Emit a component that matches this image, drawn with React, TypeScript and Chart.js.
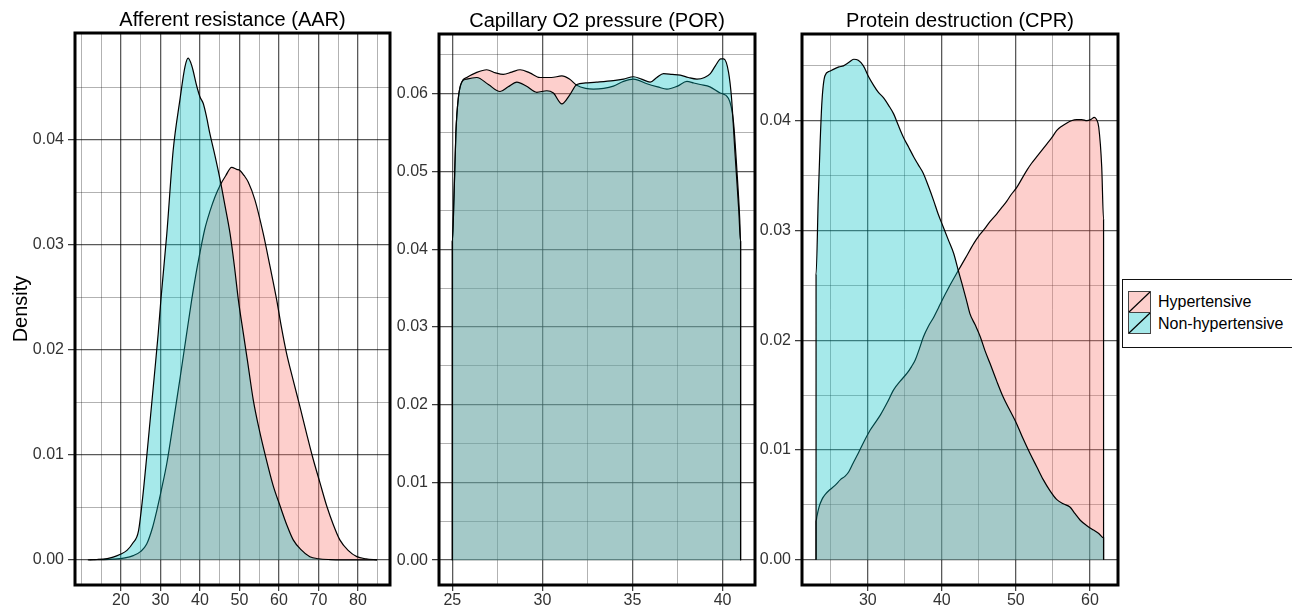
import React, { useEffect, useRef } from 'react';
import { Chart, registerables } from 'chart.js';

Chart.register(...registerables);

// ---------------- data ----------------
const seriesNames = ['Hypertensive', 'Non-hypertensive'];
const panelTitles = ['Afferent resistance (AAR)', 'Capillary O2 pressure (POR)', 'Protein destruction (CPR)'];
const yAxisTitle = 'Density';

// Panel 1: AAR
const aarHyperX = [12, 15, 18, 21, 23.1, 25, 26.5, 28, 29, 30.3, 31.6, 33.2, 34.9, 36.4, 37.9, 39, 40, 41.2, 42.5, 43.8, 45.1, 46.5, 48.0, 49.3, 50.1, 51.2, 52.2, 53.9, 56.0, 57.7, 59.4, 60.6, 61.9, 63.6, 65.3, 67, 68.5, 70.4, 72.1, 73.8, 75.4, 77.5, 79.7, 82, 84.8];
const aarHyperY = [0, 0.00002, 0.00006, 0.00018, 0.0004, 0.0008, 0.0015, 0.0031, 0.0046, 0.0068, 0.0092, 0.013, 0.0172, 0.021, 0.0248, 0.0273, 0.0293, 0.0315, 0.0332, 0.0346, 0.0357, 0.0366, 0.0374, 0.0372, 0.0371, 0.0366, 0.036, 0.0343, 0.0311, 0.028, 0.0248, 0.0222, 0.0197, 0.0171, 0.0146, 0.012, 0.0098, 0.0073, 0.0051, 0.0033, 0.0019, 0.0009, 0.0003, 0.0001, 0];
const aarNonX = [11.6, 14, 16.5, 18, 19.7, 21.5, 23, 24.4, 25.5, 26.5, 27.5, 28.5, 29.4, 30.1, 31.6, 33.2, 34.9, 36.2, 37.0, 37.9, 39.2, 40.0, 40.8, 41.6, 42.5, 43.8, 45.1, 46.3, 47.6, 48.7, 49.7, 51.0, 52.0, 53.5, 55.0, 56.5, 58.5, 60.3, 62.0, 63.6, 65.5, 67.8, 70, 73, 76, 80, 84.8];
const aarNonY = [0, 0.00003, 0.00012, 0.00025, 0.0005, 0.0009, 0.0016, 0.0027, 0.006, 0.0098, 0.0138, 0.0178, 0.0215, 0.0248, 0.0311, 0.039, 0.0438, 0.047, 0.0478, 0.0471, 0.0451, 0.0441, 0.0435, 0.0423, 0.0406, 0.0385, 0.0362, 0.0338, 0.0311, 0.028, 0.0248, 0.0215, 0.019, 0.0152, 0.0124, 0.01, 0.0071, 0.0051, 0.0033, 0.0019, 0.001, 0.0003, 0.0001, 0.00002, 0, 0, 0];
const aarXMajor = [20, 30, 40, 50, 60, 70, 80];
const aarXMinor = [10, 15, 25, 35, 45, 55, 65, 75, 85];
const aarYMajor = [0, 0.01, 0.02, 0.03, 0.04];
const aarYMinor = [0.005, 0.015, 0.025, 0.035, 0.045];

// Panel 2: POR
const porHyperX = [25, 25, 25.09, 25.2, 25.33, 25.52, 25.8, 26.3, 26.91, 27.4, 27.83, 28.3, 28.76, 29.3, 29.87, 30.5, 31.08, 31.5, 31.91, 32.4, 32.83, 33.4, 33.94, 34.5, 35.06, 35.8, 36.4, 36.91, 37.5, 38.02, 38.4, 38.76, 39.3, 39.87, 40.33, 40.6, 40.8, 40.95, 41, 41];
const porHyperY = [0, 0.041, 0.0465, 0.0551, 0.0594, 0.0615, 0.0621, 0.0627, 0.0631, 0.0627, 0.0625, 0.0628, 0.0631, 0.0627, 0.0621, 0.0621, 0.0623, 0.0619, 0.0611, 0.0607, 0.0606, 0.0607, 0.061, 0.0616, 0.0619, 0.0613, 0.0609, 0.0606, 0.061, 0.0616, 0.0614, 0.0612, 0.0609, 0.0601, 0.0594, 0.0565, 0.05, 0.044, 0.041, 0];
const porNonX = [25, 25, 25.09, 25.2, 25.33, 25.52, 25.8, 26.36, 27.0, 27.65, 28.1, 28.58, 29.1, 29.69, 30.24, 30.61, 31.08, 31.5, 31.91, 32.4, 33.0, 33.94, 34.5, 35.06, 35.5, 35.98, 36.35, 36.72, 37.2, 37.65, 38.1, 38.58, 39.0, 39.32, 39.6, 39.9, 40.06, 40.33, 40.5, 40.7, 40.9, 41, 41];
const porNonY = [0, 0.041, 0.0465, 0.0551, 0.0594, 0.0615, 0.0619, 0.0621, 0.0612, 0.0603, 0.0609, 0.0615, 0.061, 0.0602, 0.0604, 0.0601, 0.0587, 0.0598, 0.0612, 0.0614, 0.0615, 0.0617, 0.0619, 0.0622, 0.0619, 0.0615, 0.0621, 0.0626, 0.0625, 0.0624, 0.0621, 0.0619, 0.0621, 0.0626, 0.0636, 0.0645, 0.0645, 0.0628, 0.0594, 0.052, 0.045, 0.041, 0];
const porXMajor = [25, 30, 35, 40];
const porXMinor = [27.5, 32.5, 37.5];
const porYMajor = [0, 0.01, 0.02, 0.03, 0.04, 0.05, 0.06];
const porYMinor = [0.005, 0.015, 0.025, 0.035, 0.045, 0.055, 0.065];

// Panel 3: CPR
const cprHyperX = [23, 23, 23.1, 23.4, 23.8, 24.3, 24.9, 25.6, 26.3, 26.9, 27.4, 28, 28.7, 29.5, 30.3, 31, 31.7, 32.6, 33.5, 34.4, 35.3, 35.9, 36.4, 37, 37.5, 38.2, 38.9, 39.5, 40, 41, 42, 43.2, 44.3, 45, 45.6, 46.5, 47.4, 48.1, 48.8, 49.4, 50.1, 50.8, 51.5, 52.1, 52.8, 53.5, 54.2, 54.9, 55.5, 56.2, 56.9, 57.5, 58.2, 58.9, 59.6, 60.1, 60.6, 60.9, 61.2, 61.6, 61.85, 61.85];
const cprHyperY = [0, 0.0035, 0.0039, 0.0048, 0.0055, 0.006, 0.0064, 0.0068, 0.0073, 0.0076, 0.008, 0.0088, 0.0097, 0.0108, 0.0118, 0.0125, 0.0132, 0.0143, 0.0155, 0.0163, 0.017, 0.0176, 0.0182, 0.0193, 0.0203, 0.0213, 0.0221, 0.0229, 0.0236, 0.0249, 0.0261, 0.0275, 0.0288, 0.0295, 0.03, 0.0308, 0.0315, 0.0321, 0.0327, 0.0333, 0.0339, 0.0347, 0.0355, 0.0361, 0.0367, 0.0373, 0.0379, 0.0385, 0.0391, 0.0395, 0.0398, 0.04, 0.0401, 0.0401, 0.04, 0.0401, 0.0403, 0.0401, 0.0394, 0.0358, 0.031, 0];
const cprNonX = [23, 23, 23.3, 23.55, 23.8, 24.2, 24.8, 25.4, 26.1, 26.7, 27.4, 28.1, 28.7, 29.4, 30.1, 30.8, 31.4, 32.1, 32.8, 33.5, 34.1, 34.8, 35.5, 36.2, 36.8, 37.5, 38.2, 38.9, 39.5, 40.2, 40.9, 41.6, 42.2, 42.7, 43.3, 43.8, 44.5, 45.2, 45.8, 46.5, 47.4, 48.3, 49.2, 50.1, 51, 51.9, 52.8, 53.7, 54.6, 55.5, 56.4, 57.3, 58, 58.7, 59.6, 60.5, 61.2, 61.85, 61.85];
const cprNonY = [0, 0.026, 0.033, 0.038, 0.0418, 0.0441, 0.0445, 0.0447, 0.0449, 0.045, 0.0453, 0.0456, 0.0455, 0.045, 0.044, 0.0432, 0.0426, 0.0421, 0.0414, 0.0406, 0.0396, 0.0385, 0.0376, 0.0367, 0.036, 0.0352, 0.034, 0.0327, 0.0315, 0.0303, 0.0291, 0.0279, 0.0264, 0.0252, 0.0237, 0.0224, 0.0214, 0.0203, 0.0191, 0.0179, 0.0163, 0.0148, 0.0136, 0.0124, 0.011, 0.0097, 0.0085, 0.0073, 0.0063, 0.0055, 0.0051, 0.0048, 0.0042, 0.0036, 0.0031, 0.0027, 0.0024, 0.002, 0];
const cprXMajor = [30, 40, 50, 60];
const cprXMinor = [25, 35, 45, 55];
const cprYMajor = [0, 0.01, 0.02, 0.03, 0.04];
const cprYMinor = [0.005, 0.015, 0.025, 0.035, 0.045];

// ---------------- styles ----------------
const FONT = '"Liberation Sans", Arial, Helvetica, sans-serif';
const PINK_FILL = 'rgba(248,118,109,0.35)';
const CYAN_FILL = 'rgba(0,191,196,0.35)';
const MAJOR_GRID = 'rgba(0,0,0,0.65)';
const MINOR_GRID = 'rgba(0,0,0,0.3)';
const TICK_COLOR = '#333333';
const TICK_TEXT = '#333333';

const isIn = (arr: number[], v: number) => arr.some((m) => Math.abs(m - v) < 1e-9);
const zip = (xs: number[], ys: number[]) => xs.map((x, i) => ({ x, y: ys[i] }));

const framePlugin = {
  id: 'panelFrame',
  afterDraw(chart: any) {
    const { ctx, chartArea: a } = chart;
    ctx.save();
    ctx.strokeStyle = '#000';
    ctx.lineWidth = 3;
    ctx.strokeRect(a.left, a.top, a.right - a.left, a.bottom - a.top);
    ctx.restore();
  },
};

interface PanelCfg {
  canvasLeft: number;
  canvasWidth: number;
  yAxisWidth: number;
  padRight: number;
  titleTop: number;
  title: string;
  showYTitle: boolean;
  xMin: number; xMax: number; yMin: number; yMax: number;
  xMajor: number[]; xMinor: number[]; yMajor: number[]; yMinor: number[];
  hypX: number[]; hypY: number[]; nonX: number[]; nonY: number[];
  xFmt: (v: number) => string;
}

const panels: PanelCfg[] = [
  {
    canvasLeft: 0, canvasWidth: 395, yAxisWidth: 75, padRight: 5, titleTop: 8,
    title: panelTitles[0], showYTitle: true,
    xMin: 8.35, xMax: 88.1, yMin: -0.0024, yMax: 0.0502,
    xMajor: aarXMajor, xMinor: aarXMinor, yMajor: aarYMajor, yMinor: aarYMinor,
    hypX: aarHyperX, hypY: aarHyperY, nonX: aarNonX, nonY: aarNonY,
    xFmt: (v) => String(v),
  },
  {
    canvasLeft: 395, canvasWidth: 365, yAxisWidth: 44, padRight: 5, titleTop: 9,
    title: panelTitles[1], showYTitle: false,
    xMin: 24.26, xMax: 41.8, yMin: -0.0032, yMax: 0.0677,
    xMajor: porXMajor, xMinor: porXMinor, yMajor: porYMajor, yMinor: porYMinor,
    hypX: porHyperX, hypY: porHyperY, nonX: porNonX, nonY: porNonY,
    xFmt: (v) => String(v),
  },
  {
    canvasLeft: 757, canvasWidth: 363, yAxisWidth: 45, padRight: 2, titleTop: 9,
    title: panelTitles[2], showYTitle: false,
    xMin: 21.1, xMax: 63.8, yMin: -0.0023, yMax: 0.0479,
    xMajor: cprXMajor, xMinor: cprXMinor, yMajor: cprYMajor, yMinor: cprYMinor,
    hypX: cprHyperX, hypY: cprHyperY, nonX: cprNonX, nonY: cprNonY,
    xFmt: (v) => String(v),
  },
];

function buildConfig(p: PanelCfg): any {
  const xTicks = [...p.xMajor, ...p.xMinor].sort((a, b) => a - b);
  const yTicks = [...p.yMajor, ...p.yMinor].sort((a, b) => a - b);
  const lineDs = {
    borderColor: '#000',
    borderWidth: 1.2,
    fill: 'origin',
    pointRadius: 0,
    cubicInterpolationMode: 'monotone',
  };
  return {
    type: 'line',
    data: {
      datasets: [
        { ...lineDs, label: seriesNames[1], data: zip(p.nonX, p.nonY), backgroundColor: CYAN_FILL, order: 0 },
        { ...lineDs, label: seriesNames[0], data: zip(p.hypX, p.hypY), backgroundColor: PINK_FILL, order: 1 },
      ],
    },
    options: {
      responsive: false,
      animation: false,
      events: [],
      layout: { padding: { left: 0, right: p.padRight, top: 0, bottom: 0 } },
      plugins: {
        legend: { display: false },
        tooltip: { enabled: false },
        title: {
          display: true,
          text: p.title,
          fullSize: false,
          color: '#000',
          font: { family: FONT, size: 20, weight: 'normal', lineHeight: 1.2 },
          padding: { top: p.titleTop, bottom: 1 },
        },
      },
      scales: {
        x: {
          type: 'linear',
          min: p.xMin,
          max: p.xMax,
          afterBuildTicks: (s: any) => { s.ticks = xTicks.map((v) => ({ value: v })); },
          afterFit: (s: any) => { s.height = 23; },
          ticks: {
            autoSkip: false,
            maxRotation: 0,
            padding: 0,
            color: TICK_TEXT,
            font: { family: FONT, size: 16 },
            callback: (v: number) => (isIn(p.xMajor, v) ? p.xFmt(v) : ''),
          },
          grid: {
            color: (c: any) => (c.tick && isIn(p.xMajor, c.tick.value) ? MAJOR_GRID : MINOR_GRID),
            lineWidth: (c: any) => (c.tick && isIn(p.xMajor, c.tick.value) ? 1.3 : 1),
            tickLength: 6,
            tickColor: (c: any) => (c.tick && isIn(p.xMajor, c.tick.value) ? TICK_COLOR : 'rgba(0,0,0,0)'),
            tickWidth: 1.2,
          },
          border: { display: false },
        },
        y: {
          type: 'linear',
          min: p.yMin,
          max: p.yMax,
          afterBuildTicks: (s: any) => { s.ticks = yTicks.map((v) => ({ value: v })); },
          afterFit: (s: any) => { s.width = p.yAxisWidth; },
          ticks: {
            autoSkip: false,
            padding: 4,
            color: TICK_TEXT,
            font: { family: FONT, size: 16 },
            callback: (v: number) => (isIn(p.yMajor, v) ? v.toFixed(2) : ''),
          },
          grid: {
            color: (c: any) => (c.tick && isIn(p.yMajor, c.tick.value) ? MAJOR_GRID : MINOR_GRID),
            lineWidth: (c: any) => (c.tick && isIn(p.yMajor, c.tick.value) ? 1.3 : 1),
            tickLength: 7,
            tickColor: (c: any) => (c.tick && isIn(p.yMajor, c.tick.value) ? TICK_COLOR : 'rgba(0,0,0,0)'),
            tickWidth: 1.2,
          },
          border: { display: false },
          title: {
            display: p.showYTitle,
            text: yAxisTitle,
            color: '#000',
            font: { family: FONT, size: 20, lineHeight: 1.2 },
            padding: { top: 9, bottom: 0 },
          },
        },
      },
    },
    plugins: [framePlugin],
  };
}

function Panel({ cfg }: { cfg: PanelCfg }) {
  const ref = useRef<HTMLCanvasElement | null>(null);
  useEffect(() => {
    if (!ref.current) return;
    const chart = new Chart(ref.current, buildConfig(cfg));
    return () => chart.destroy();
  }, [cfg]);
  return (
    <canvas
      ref={ref}
      width={cfg.canvasWidth}
      height={608}
      style={{ position: 'absolute', left: cfg.canvasLeft, top: 0, width: cfg.canvasWidth, height: 608, display: 'block' }}
    />
  );
}

function Legend() {
  const fills = [PINK_FILL, CYAN_FILL];
  return (
    <div
      style={{
        position: 'absolute', left: 1122, top: 279, width: 190, height: 69,
        border: '1px solid #111', boxSizing: 'border-box', background: '#fff',
        fontFamily: FONT, fontSize: 16, color: '#000',
      }}
    >
      {seriesNames.map((name, i) => (
        <div key={name} style={{ position: 'absolute', left: 5, top: 11 + i * 21.5, height: 21.5, display: 'flex', alignItems: 'center' }}>
          <svg width={24} height={22} style={{ display: 'block' }}>
            <rect x={0.5} y={0.5} width={22} height={21} fill="#fff" />
            <rect x={0.5} y={0.5} width={22} height={21} fill={fills[i]} stroke="#444" strokeWidth={1} />
            <line x1={1} y1={21} x2={22} y2={1} stroke="#000" strokeWidth={1.2} />
          </svg>
          <span style={{ marginLeft: 6, whiteSpace: 'nowrap', lineHeight: '21px' }}>{name}</span>
        </div>
      ))}
    </div>
  );
}

export default function App() {
  return (
    <div style={{ position: 'absolute', left: 0, top: 0, width: 1292, height: 608, overflow: 'hidden', background: '#fff' }}>
      {panels.map((p) => (
        <Panel key={p.title} cfg={p} />
      ))}
      <Legend />
    </div>
  );
}
